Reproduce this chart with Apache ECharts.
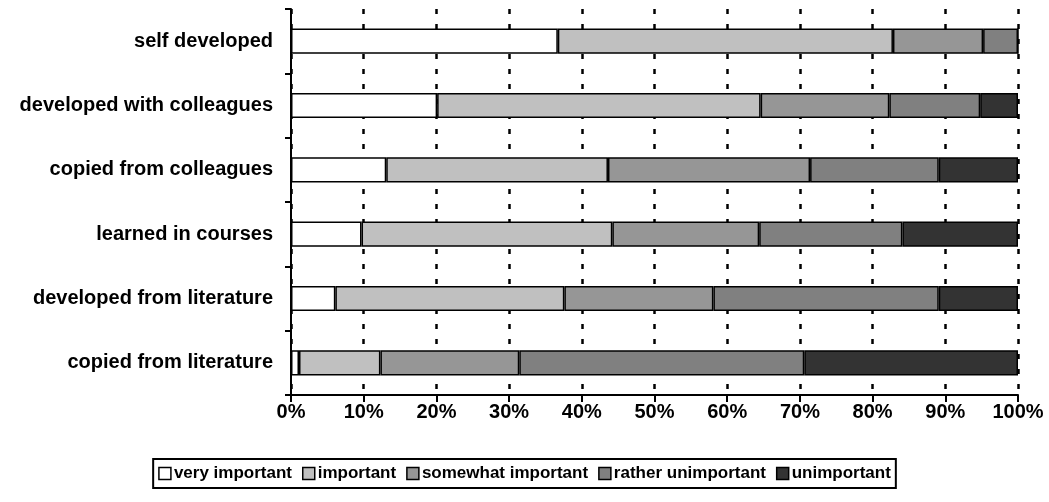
<!DOCTYPE html>
<html>
<head>
<meta charset="utf-8">
<script src="https://cdn.jsdelivr.net/npm/echarts@6/dist/echarts.min.js"></script>
<style>
html,body{margin:0;padding:0;background:#fff;}
#chart{width:1049px;height:502px;}
</style>
</head>
<body>
<div id="chart"></div>
<script>
var categories = ['self developed','developed with colleagues','copied from colleagues','learned in courses','developed from literature','copied from literature'];
var seriesNames = ['very important','important','somewhat important','rather unimportant','unimportant'];
var veryImportant = [36.7, 20.1, 13.1, 9.7, 6.1, 1.1];
var important = [46.1, 44.5, 30.5, 34.5, 31.5, 11.2];
var somewhatImportant = [12.4, 17.7, 27.8, 20.2, 20.5, 19.1];
var ratherUnimportant = [4.8, 12.5, 17.7, 19.7, 31.0, 39.2];
var unimportant = [0, 5.2, 10.9, 15.9, 10.9, 29.4];
var xTicks = [0,10,20,30,40,50,60,70,80,90,100];

var colors = ['#ffffff','#c0c0c0','#969696','#808080','#333333'];
var seriesData = [veryImportant, important, somewhatImportant, ratherUnimportant, unimportant];
var font = 'Arial, "Liberation Sans", sans-serif';

var chart = echarts.init(document.getElementById('chart'), null, {renderer:'canvas'});
chart.setOption({
  animation:false,
  backgroundColor:'#fff',
  grid:{left:291, right:31, top:9, bottom:107, containLabel:false},
  legend:{
    data:seriesNames,
    left:'center',
    top:459,
    orient:'horizontal',
    borderColor:'#000',
    borderWidth:2,
    padding:[6,5,6,5],
    itemWidth:12,
    itemHeight:12,
    itemGap:10,
    icon:'rect',
    textStyle:{fontFamily:font, fontWeight:'bold', fontSize:17, color:'#000', padding:[0,0,0,-2]},
    itemStyle:{borderColor:'#000', borderWidth:1.5}
  },
  xAxis:{
    type:'value',
    min:xTicks[0], max:xTicks[xTicks.length-1], interval:10,
    axisLine:{show:true, lineStyle:{color:'#000', width:2}},
    axisTick:{show:true, length:7, lineStyle:{color:'#000', width:2}},
    axisLabel:{formatter:'{value}%', fontFamily:font, fontWeight:'bold', fontSize:20, color:'#000', margin:7},
    splitLine:{show:true, lineStyle:{color:'#000', type:[5,10], width:2.5}}
  },
  yAxis:{
    type:'category',
    data:categories,
    inverse:true,
    axisLine:{show:true, lineStyle:{color:'#000', width:2}},
    axisTick:{show:true, length:6, lineStyle:{color:'#000', width:2}},
    axisLabel:{fontFamily:font, fontWeight:'bold', fontSize:20, color:'#000', margin:18},
    splitLine:{show:false}
  },
  series: seriesNames.map(function(n,i){
    return {
      name:n, type:'bar', stack:'total', barWidth:'39%',
      data:seriesData[i],
      itemStyle:{color:colors[i], borderColor:'#000', borderWidth:1.5}
    };
  })
});
</script>
</body>
</html>
